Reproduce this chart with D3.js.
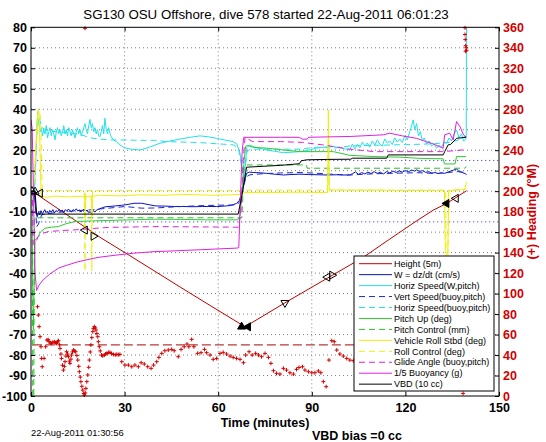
<!DOCTYPE html>
<html><head><meta charset="utf-8">
<script src="https://cdn.jsdelivr.net/npm/d3@7"></script>
<style>html,body{margin:0;padding:0;background:#fff}svg{display:block}</style>
</head><body>
<svg id="c" width="546" height="442"></svg>
<script>
// ---------------- data (time in minutes, value in left-axis units) ----------------
const titleText = "SG130 OSU Offshore, dive 578 started 22-Aug-2011 06:01:23";
const xTicks = [0, 30, 60, 90, 120, 150];
const yTicks = [-100,-90,-80,-70,-60,-50,-40,-30,-20,-10,0,10,20,30,40,50,60,70,80];
const rTicks = [0,20,40,60,80,100,120,140,160,180,200,220,240,260,280,300,320,340,360];
const legendNames = ["Height (5m)","W = dz/dt (cm/s)","Horiz Speed(W,pitch)","Vert Speed(buoy,pitch)",
  "Horiz Speed(buoy,pitch)","Pitch Up (deg)","Pitch Control (mm)","Vehicle Roll Stbd (deg)",
  "Roll Control (deg)","Glide Angle (buoy,pitch)","1/5 Buoyancy (g)","VBD (10 cc)"];

const height = [[0,0],[2.3,-2],[22.1,-22.5],[31.7,-31.5],[47.8,-46.8],[57.4,-55.8],[68.6,-66.2],
  [81.4,-54.5],[106.5,-32.3],[114.5,-23.9],[123.1,-15],[128.9,-9.3],[133.2,-6],[139.6,0.2]];
const heightMarks = [[0.3,0,"up",0],[1.3,-0.3,"up",0],[2.9,-1,"left",0],[17.3,-19,"left",0],[20.0,-22,"right",0],
  [67.5,-66.2,"up",1],[69.6,-66.2,"left",1],[81.4,-54.5,"down",0],[95.0,-42,"left",0],[96.5,-41,"right",0],
  [133.2,-6,"left",1],[136.2,-3.5,"left",0]];

const wObs = [[0,0],[1.0,0],[1.6,-10.8],[2.0,-12.5],[2.4,-10],[2.8,-11.5],[3.2,-9.5],[3.6,-11],[4.0,-10.2],[4.4,-9],
  [4.8,-10.5],[5.2,-9.8],[5.6,-11],[6.0,-9.4],[6.5,-10.3],[7.0,-9],[7.5,-10.6],[8.0,-9.5],[8.5,-10],[9.0,-8.8],
  [9.5,-9.9],[10.0,-9.2],[10.5,-10.4],[11.0,-9],[11.5,-9.8],[12.0,-8.7],[12.5,-9.6],[13.0,-10.1],[13.5,-9],[14.0,-9.5],
  [14.5,-8.6],[15.0,-9.7],[15.5,-9.1],[16.0,-10.2],[16.5,-9.3],[17.0,-8.8],[17.5,-9.9],[18.0,-9.2],[18.5,-10.5],[19.0,-10],
  [19.5,-11],[20.0,-9.5],[20.5,-10.2],[21,-9.2],[22,-8.6],[23,-8],[24,-7.6],[25,-7.5],[27,-7.2],[29,-6.9],[30.1,-6.7],
  [32,-6.2],[33,-5.9],[35.5,-5.9],[38.1,-6.7],[40,-7.2],[43,-7.3],[46,-7.5],[48.8,-7.5],[52,-7.6],[55,-7.5],[57,-7.5],
  [59.5,-7.5],[62,-7.3],[64,-7],[65.9,-6],[66.8,-4.5],[67.5,-1],[68.3,4],[69.1,8.7],[70,9.3],[71.2,9.1],[73,9],
  [75.5,8.7],[78,8.3],[80.9,7.9],[83,8.1],[86.2,8.3],[89,8.1],[92,8],[95,7.9],[98,8],[100,7.9],[102.2,7.9],[103,8.5],
  [104,9.4],[105,8.2],[106,9.1],[107,8.4],[108,9.3],[109,8.6],[110,9.5],[111,8.7],[112,9.2],[113,8.4],[114,9.6],
  [115,8.9],[116,9.8],[117,9.1],[118,9.9],[119,9.3],[120,10.1],[121,9.5],[122,10.3],[123,9.8],[123.6,10.4],[124.5,9.6],
  [125.5,10],[126.5,9.2],[127.5,9.5],[128.5,8.8],[129.5,9.1],[130.5,8.6],[131.5,9],[132.5,8.7],[133.5,9.2],[134.5,9.8],
  [135.5,10.3],[136.4,10.9],[137.2,9.6],[138,9.2],[138.8,8.8],[139.3,8.5],[139.6,8]];

const hsW = [[0,0],[1.0,0],[1.6,18.5],[2.1,36.4],[2.5,33],[2.9,29],[3.3,31],[3.7,27],[4.1,30],[4.5,28],[4.9,32],[5.3,26],
  [5.7,29],[6.1,31],[6.5,27],[6.9,30],[7.3,28],[7.7,25],[8.1,29],[8.5,31],[8.9,28],[9.3,30],[9.7,27],[10.1,29],[10.5,32],
  [10.9,28],[11.3,30],[11.7,27],[12.1,31],[12.5,29],[12.9,27],[13.3,30],[13.7,28],[14.1,26],[14.5,29],[14.9,31],[15.3,28],
  [15.7,30],[16.1,27],[16.5,29],[16.9,31],[17.3,33],[17.7,30],[18.1,28],[18.5,32],[18.9,35],[19.3,31],[19.7,33],[20.1,29],
  [20.5,31],[20.9,28],[21.3,30],[21.7,27],[22.1,26.6],[22.5,29],[22.9,32],[23.3,28],[23.7,35.6],[24.1,30],[24.5,28],
  [24.9,31],[25.5,27],[26.5,25],[27.5,24],[28.5,22.6],[30,21.2],[32,20.5],[34.9,20.1],[38,21.5],[41.3,23.4],[44.5,24.5],
  [47.7,25.4],[51,26.3],[54.2,27],[57,26.5],[59.5,25.8],[62,25],[64.8,24.2],[66,23],[67,18.5],[67.8,10],[68.3,5.5],
  [68.7,12],[69.1,21],[70,22.5],[71.2,21.8],[73,21],[75.5,20.1],[78,19.5],[80.9,18.8],[83.5,19],[86.2,19.3],[89,20],
  [91.5,21],[94,21.5],[96.9,21.8],[99.5,21],[102.2,20.1],[103,23],[103.8,20.5],[104.6,22.8],[105.4,21.2],[106.2,24],
  [107,22],[107.8,23.5],[108.6,21.5],[109.4,24.5],[110.2,22.5],[111,25],[111.8,23],[112.6,22],[113.4,25.5],[114.2,23.5],
  [115,24.5],[115.8,22.8],[116.6,26],[117.4,24],[118.2,25.5],[119,23.8],[119.8,27],[120.6,25],[121.4,29],[122,32],
  [122.5,34.8],[123,30],[123.6,33],[124.2,27],[124.8,29],[125.4,24.5],[126,26],[126.8,23],[127.6,24.5],[128.4,22],
  [129.2,23],[130,21],[130.8,22.5],[131.6,21.5],[132.4,24],[133.2,23.4],[134,26],[134.8,24.5],[135.6,28],[136.4,29.9],
  [137.2,26],[138,28],[138.6,24.5],[139.1,25],[139.5,26],[139.7,150]];

const wBuoy = [[0,0],[1.2,0],[1.8,-17.5],[2.4,-16],[3.4,-11.6],[5,-11],[8,-10.5],[10.9,-10],[15,-9.5],[20,-9],[24.8,-8.3],
  [30.1,-7.5],[35.5,-8.3],[40,-8.2],[48,-7.5],[56,-7],[62,-6.8],[66,-6.7],[67,-5],[68,2],[69,7],[70.2,8],[75,8.6],[80,8.9],
  [86.2,9.1],[91,8.8],[96,8.3],[102.2,7.9],[110,8.5],[118,8.8],[124,9],[130,8.6],[135,9.3],[137,9.5],[139.6,9.2]];

const hsBuoy = [[0,0],[1.2,0],[2.1,38.8],[2.6,36],[3.5,31],[5,29.9],[8,29],[12,28.5],[16,27.5],[19.9,25.8],[25,25],[30,25],
  [35,24.8],[40,24.8],[43.5,24.2],[54.2,23.7],[64.8,22.6],[66.5,21],[67.5,12],[68.5,10],[69.2,19],[70.2,20.5],[80,20.5],
  [86.2,20.5],[91.5,21.5],[96.9,21],[102.2,22.1],[110,22.4],[120,22.7],[128.9,23.1],[134,23.8],[137,25],[139.1,26.7]];

const pitch = [[0,0],[0.3,0],[0.55,-45],[0.75,-67.5],[0.95,-50],[1.3,-24],[2.35,-22.1],[3,-20],[4.5,-18.1],[6.5,-17.6],
  [8.8,-17.3],[11,-16],[14.1,-14.8],[20,-14.5],[24.8,-14.3],[32,-14],[39.7,-13.7],[48,-13.8],[56,-14],[62,-14],[66.3,-14],
  [67,-12],[67.7,0],[68.3,15],[68.8,22],[69.5,22.3],[71.2,21.4],[75.5,21],[80.9,20.1],[86.2,19.3],[96.9,19.3],[102.2,17.5],
  [110,16.9],[118.2,16.6],[125,16],[132.1,15.8],[132.5,13.3],[135.9,13.3],[136.4,16.9],[139.4,16.9]];

const pitchCtl = [[0,0],[0.4,0],[0.6,-120],[0.85,-120],[1.1,-13],[20,-13],[40,-13],[66.8,-13],[67.6,-13],[68.3,12.8],
  [88.3,12.8],[88.5,11.2],[139,11.2],[139.5,12]];

const roll = [[0,0],[0.8,0],[1.3,15],[1.8,30],[2.3,39.5],[2.6,38],[2.9,20],[3.2,-1],[3.6,-2.6],[5,-3],[8,-2.4],[12,-2.8],
  [16,-2.5],[17.2,-2.5],[17.4,-12],[17.6,-2.5],[19.4,-2.5],[19.6,-12],[19.8,-2.5],[22,-2],[28,-2.3],[35,-1.8],[42,-2],
  [50,-1.6],[58,-2],[64,-1.8],[67.5,-1.5],[68.5,-0.7],[75,-0.7],[85,-0.5],[95.1,-0.7],[95.3,39.5],[95.6,0.5],[96,0.6],
  [102,0.5],[110,0.5],[120,0.3],[130,0.3],[132.5,0.3],[132.8,-30],[133.6,-30],[133.9,0.3],[136,0.4],[139,0.8],[139.6,4.5]];

const rollCtl = [[0,0],[0.8,0],[1.3,10],[1.8,25],[2.3,40],[2.9,38],[3.2,30],[3.6,0.3],[17.1,0.3],[17.3,-39],[17.5,0.3],
  [19.3,0.3],[19.5,-39],[19.7,0.3],[67.8,0.3],[68.5,0.5],[95,0.5],[95.3,25],[95.6,0.5],[132.9,0.5],[133.1,-40],
  [133.6,-40],[133.8,0.5],[139.5,1]];

const glide = [[0,0],[0.4,0],[0.7,-26],[1.5,-25],[2.35,-22.1],[4,-20.5],[5.6,-19.7],[10,-19.2],[14.1,-18.9],[20,-18.2],
  [24.8,-17.7],[32,-17.5],[39.7,-17.3],[50,-17.4],[60,-17.5],[66.5,-17.6],[67.3,-10],[68,15],[68.6,26.3],[69.5,25.5],
  [71,24.2],[80,24.2],[87,23.8],[94,22.5],[102.2,20.5],[110,19.3],[120,19.3],[132,19.3],[136,19.8],[139.6,20.3]];

const buoy = [[0,34.8],[0.4,30],[0.9,-10],[1.3,-40],[1.8,-48.5],[2.5,-46],[3.9,-43.3],[6,-40.5],[8.8,-37.6],[11.4,-36.2],
  [15,-34.5],[19.4,-33],[22.1,-32.2],[28.5,-31],[32.8,-30.3],[39.7,-29.5],[43.5,-29.3],[54.2,-28.6],[60,-28.2],
  [65.9,-27.8],[66.6,-27.6],[67.2,0],[67.7,20],[68.2,26.3],[80,26.3],[86,26.3],[87,25.4],[88.5,25.4],[89,26.3],[95,26.5],
  [102.2,26.7],[112.9,27.5],[115,28.3],[119,27],[123.6,25.8],[126,24.5],[128.9,23.1],[132.1,20.9],[132.6,27.5],
  [134.2,28.3],[135.3,25],[136.4,34],[137.5,31.5],[138.5,28],[139.1,26.7],[139.6,26.5]];

const vbd = [[0,0],[1.3,0],[1.8,-11.2],[20,-11.2],[40,-11.2],[66.4,-11.2],[67.5,-3],[69.1,11.7],[75,12.2],[80,12.6],
  [86,13.4],[86.6,14.8],[88.3,15.3],[95,15.5],[102.5,15.6],[103,16.1],[114,16.1],[114.5,17.7],[132.1,17.7],[132.6,19.3],
  [133.7,22.6],[134.5,22.8],[136.4,25.8],[139.4,26.3]];

const wTarget = [[2,15],[150,15]];
const wTargetNeg = [[2,-15],[150,-15]];
const headingTarget = [[0.6,50],[139.6,50]];  // degrees, right axis

const heading = [[2.1,87.2],[2.35,79],[2.6,67.7],[2.9,57.9],[3.2,48.1],[3.4,36.7],[3.6,28.6],[4.2,36.7],[4.7,48.1],
  [5.1,54.6],[5.5,55],[5.8,53],[6.2,51.8],[6.6,51.4],[7.0,52.5],[7.5,53],[7.9,52],[8.2,51.4],[8.5,53],[8.8,54],[9.1,50],
  [9.3,46.5],[9.6,41],[9.8,36.7],[10.1,30],[10.4,25.3],[10.7,29],[10.9,33.5],[11.2,39],[11.4,43.2],[11.7,41],[12.0,38.4],
  [12.3,34],[12.5,31.9],[12.8,36],[13.0,40],[13.3,43],[13.6,44.9],[14.0,44],[14.3,43.2],[14.7,39.5],[15.0,35.1],[15.3,29],
  [15.5,23.7],[15.8,18.5],[16.0,14],[16.3,9.5],[16.6,5.8],[16.9,2.5],[17.1,0.9],[17.3,359],[17.4,3],[17.6,7.4],[17.9,14],
  [18.2,20.5],[18.5,28],[18.7,35.1],[19.0,43],[19.2,49.8],[19.5,57],[19.8,62.8],[20.0,66],[20.3,67.7],[20.6,66.5],
  [20.8,64.4],[21.1,61],[21.4,57.9],[21.6,53],[21.9,48.1],[22.2,44],[22.6,40],[23.0,39.2],[23.5,40],[23.9,41],[24.3,41.6],
  [24.8,42.5],[25.3,42.6],[25.8,41.5],[26.4,40.6],[27.0,40.2],[27.5,40.6],[28.0,40.4],[28.5,40.6],
  [29.1,33.5],[30.1,30.2],[31.2,30.2],[32.3,28.6],[33.3,30.2],[34.4,28.6],[35.3,32.5],[36.3,31.2],[37.4,28.6],[38.5,27],
  [39.3,30.2],[40.3,33.5],[41.0,37.7],[41.9,41.6],[42.9,44.2],[44.0,44.9],[45.1,45.5],[45.9,44.2],[47.2,38.4],[48.1,45.5],
  [49.1,48.1],[50.0,50.7],[50.6,48.1],[51.5,55.3],[52.2,48.1],[53.4,41.6],[54.5,42.3],[55.6,45.5],[56.3,42.3],[57.4,40],
  [58.4,35.8],[59.5,36.7],[60.6,41.6],[61.6,42.6],[62.7,41],[63.8,39],[64.8,37.7],[65.9,36.7],[67.0,35.8],[68.1,32.5],
  [68.8,40],[69.9,43.2],[70.9,40],[72.0,41.6],[72.9,40],[73.9,38.4],[75.0,41.6],[76.1,37.7],[76.9,31.9],[77.7,24.7],
  [78.7,22.1],[79.8,21.4],[80.9,27],[81.9,25.3],[83.0,22.7],[84.1,21.4],[85.1,26],[85.9,27.9],[87.0,28.6],[87.8,25.3],
  [88.9,23.7],[90.0,22.7],[91.0,22.7],[92.1,24.4],[92.9,22.7],[93.7,14],[94.6,9.1],[95.5,35.1],[96.4,54],[97.2,53],
  [98.0,44.9],[99.0,41],[100.1,39],[101.2,36.7],[102.2,35.1],[103.3,34.5],
  [138.5,2.5],[139.1,359.5],[139.1,353],[139.2,348],[139.3,342],[139.5,340],[139.3,336.6],[139.6,337.6]];

// ---------------- chart ----------------
const svg = d3.select("#c");
const FONT = "'Liberation Sans', Arial, Helvetica, sans-serif";
const L = 31, R = 499, T = 27.3, B = 396;
const X = d3.scaleLinear().domain([0, 150]).range([L, R]);
const Y = d3.scaleLinear().domain([-100, 80]).range([B, T]);
const YR = d3.scaleLinear().domain([0, 360]).range([B, T]);

svg.append("rect").attr("width", 546).attr("height", 442).attr("fill", "#fff");
svg.append("defs").append("clipPath").attr("id", "pc")
  .append("rect").attr("x", L).attr("y", T).attr("width", R - L).attr("height", B - T);

// grid
const grid = svg.append("g").attr("stroke", "#606060").attr("stroke-width", 0.8).attr("stroke-dasharray", "1,3");
grid.selectAll("line.h").data(yTicks.filter(v => v > -100 && v < 80)).join("line").attr("class", "h")
  .attr("x1", L).attr("x2", R).attr("y1", d => Y(d)).attr("y2", d => Y(d));
grid.selectAll("line.v").data(xTicks.filter(v => v > 0 && v < 150)).join("line").attr("class", "v")
  .attr("y1", T).attr("y2", B).attr("x1", d => X(d)).attr("x2", d => X(d));

const C = {
  height: "#c00000", w: "#0a14b4", cyan: "#22e0e8", blue: "#1a28d8", green: "#2ecc2e", greenD: "#2ebc2e",
  yellow: "#eeee10", magenta: "#e020e0", black: "#000000"
};
const styles = [
  {c: C.height, d: null}, {c: C.w, d: null}, {c: C.cyan, d: null}, {c: C.blue, d: "6,4"},
  {c: C.cyan, d: "6,4"}, {c: C.green, d: null}, {c: C.greenD, d: "6,4"}, {c: C.yellow, d: null},
  {c: C.yellow, d: "6,4"}, {c: C.magenta, d: "6,4"}, {c: C.magenta, d: null}, {c: C.black, d: null}
];
const seriesList = [height, wObs, hsW, wBuoy, hsBuoy, pitch, pitchCtl, roll, rollCtl, glide, buoy, vbd];

const plot = svg.append("g").attr("clip-path", "url(#pc)");
const line = d3.line().x(d => X(d[0])).y(d => Y(d[1]));

// target w lines
plot.selectAll("path.tw").data([wTarget, wTargetNeg]).join("path").attr("class", "tw")
  .attr("d", line).attr("fill", "none").attr("stroke", "#2a2ab0").attr("stroke-width", 1).attr("stroke-dasharray", "1,3");

seriesList.forEach((s, i) => {
  plot.append("path").datum(s).attr("d", line).attr("fill", "none")
    .attr("stroke", styles[i].c).attr("stroke-width", 1)
    .attr("stroke-dasharray", styles[i].d);
});

// heading target (right axis)
const lineR = d3.line().x(d => X(d[0])).y(d => YR(d[1]));
plot.append("path").datum(headingTarget).attr("d", lineR).attr("fill", "none")
  .attr("stroke", "#b83a3a").attr("stroke-width", 1.2).attr("stroke-dasharray", "9,4");

// heading + markers
svg.append("g").selectAll("path").data(heading).join("path")
  .attr("transform", d => `translate(${X(d[0])},${YR(d[1])})`)
  .attr("d", "M-2,0H2M0,-2V2").attr("stroke", "#d40000").attr("stroke-width", 1).attr("fill", "none");

// triangle markers on height
const rot = {up: 0, right: 90, down: 180, left: -90};
svg.append("g").attr("clip-path", "url(#pc)").selectAll("path").data(heightMarks).join("path")
  .attr("transform", d => `translate(${X(d[0])},${Y(d[1])}) rotate(${rot[d[2]]})`)
  .attr("d", d3.symbol().type(d3.symbolTriangle).size(28))
  .attr("fill", d => d[3] ? "#000" : "none").attr("stroke", "#000").attr("stroke-width", 1);

// frame
svg.append("rect").attr("x", L).attr("y", T).attr("width", R - L).attr("height", B - T)
  .attr("fill", "none").attr("stroke", "#000").attr("stroke-width", 1);

function styleAxis(g, color) {
  g.select(".domain").remove();
  g.selectAll(".tick line").attr("stroke", "#000");
  g.selectAll("text").attr("font-family", FONT).attr("font-size", "12.5px").attr("font-weight", "bold").attr("fill", color);
}
svg.append("g").attr("transform", `translate(${L},0)`)
  .call(d3.axisLeft(Y).tickValues(yTicks).tickFormat(d => String(d)).tickSizeInner(-4).tickSizeOuter(0).tickPadding(4))
  .call(g => styleAxis(g, "#000"));
svg.append("g").attr("transform", `translate(${R},0)`)
  .call(d3.axisRight(YR).tickValues(rTicks).tickFormat(d => String(d)).tickSizeInner(-4).tickSizeOuter(0).tickPadding(4))
  .call(g => styleAxis(g, "#d00000"));
svg.append("g").attr("transform", `translate(0,${B})`)
  .call(d3.axisBottom(X).tickValues(xTicks).tickFormat(d => String(d)).tickSizeInner(-4).tickSizeOuter(0).tickPadding(7))
  .call(g => styleAxis(g, "#000"));
svg.append("g").attr("transform", `translate(0,${T})`)
  .call(d3.axisTop(X).tickValues(xTicks).tickFormat("").tickSizeInner(-4).tickSizeOuter(0))
  .call(g => styleAxis(g, "#000"));

// texts
svg.append("text").attr("x", 266).attr("y", 18.8).attr("text-anchor", "middle")
  .attr("font-family", FONT).attr("font-size", "13.3px").text(titleText);
svg.append("text").attr("x", (L + R) / 2).attr("y", 426.5).attr("text-anchor", "middle")
  .attr("font-family", FONT).attr("font-size", "12.5px").attr("font-weight", "bold").text("Time (minutes)");
svg.append("text").attr("transform", `translate(536,${(T + B) / 2}) rotate(-90)`).attr("text-anchor", "middle")
  .attr("font-family", FONT).attr("font-size", "12.5px").attr("font-weight", "bold").attr("fill", "#d00000")
  .text("(+) Heading (\u00B0M)");
svg.append("text").attr("x", 31).attr("y", 436).attr("font-family", FONT).attr("font-size", "9.4px")
  .text("22-Aug-2011 01:30:56");
svg.append("text").attr("x", 312).attr("y", 439.5).attr("font-family", FONT).attr("font-size", "12.5px")
  .attr("font-weight", "bold").text("VBD bias =0 cc");

// legend
const lg = svg.append("g");
lg.append("rect").attr("x", 354).attr("y", 256).attr("width", 140).attr("height", 135)
  .attr("fill", "#fff").attr("stroke", "#000").attr("stroke-width", 1);
const rows = lg.selectAll("g.row").data(legendNames).join("g").attr("class", "row")
  .attr("transform", (d, i) => `translate(0,${263.7 + i * 10.95})`);
rows.append("line").attr("x1", 359).attr("x2", 392).attr("y1", 0).attr("y2", 0)
  .attr("stroke", (d, i) => styles[i].c).attr("stroke-width", 1).attr("stroke-dasharray", (d, i) => styles[i].d);
rows.append("text").attr("x", 394).attr("y", 3.2).attr("font-family", FONT).attr("font-size", "9.05px").text(d => d);
</script>
</body></html>
